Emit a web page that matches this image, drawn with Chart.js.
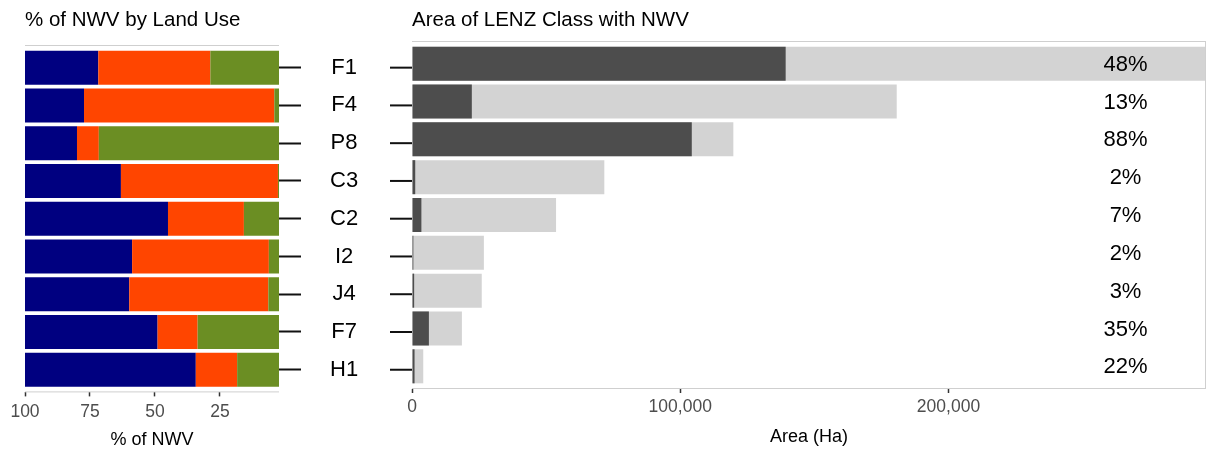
<!DOCTYPE html>
<html>
<head>
<meta charset="utf-8">
<script src="https://cdn.jsdelivr.net/npm/chart.js@4"></script>
<style>
  body { margin: 0; background: #fff; }
  #wrap { position: relative; width: 1208px; height: 453px; }
  #landUse { position: absolute; left: 0; top: 0; }
  #lenzArea { position: absolute; left: 390px; top: 0; }
</style>
</head>
<body>
<div id="wrap">
  <canvas id="landUse" width="412" height="453"></canvas>
  <canvas id="lenzArea" width="818" height="453"></canvas>
</div>
<script>
const classes = ['F1', 'F4', 'P8', 'C3', 'C2', 'I2', 'J4', 'F7', 'H1'];

// % of NWV by land use (left panel)
const useNavy   = [28.2, 22.7, 20.0, 36.9, 55.0, 41.2, 40.1, 51.0, 65.7];
const useOrange = [43.1, 73.2,  8.4, 60.4, 29.2, 52.6, 53.5, 15.4, 15.9];
const useGreen  = [28.7,  4.1, 71.6,  2.7, 15.8,  6.2,  6.4, 33.6, 18.4];
const pctTicks = [100, 75, 50, 25];

// area of LENZ class, hectares (right panel)
const totalArea = [298000, 180700, 119800, 71700, 53700, 26800, 26000, 18600, 4200];
const nwvArea   = [139300,  22300, 104300,  1200,  3500,   500,   800,  6300,  950];
const nwvPctLabel = [48, 13, 88, 2, 7, 2, 3, 35, 22];
const pctLabelAt = 266000;
const areaTicks = [0, 100000, 200000];

Chart.defaults.font.family = '"Liberation Sans", Arial, sans-serif';
Chart.defaults.color = '#000';

const rowIndex = classes.map((c, i) => i + 1);

function toPoints(values) {
    return values.map((v, i) => ({ x: v, y: rowIndex[i] }));
}

// light grey panel outline
const panelFrame = {
    id: 'panelFrame',
    afterDraw(chart, args, opts) {
        const a = chart.chartArea;
        const ctx = chart.ctx;
        ctx.save();
        ctx.strokeStyle = '#cfcfcf';
        ctx.lineWidth = 1;
        ctx.beginPath();
        ctx.moveTo(a.left, a.top + 0.5);
        ctx.lineTo(a.right, a.top + 0.5);
        ctx.moveTo(a.left, a.bottom - 0.5);
        ctx.lineTo(a.right, a.bottom - 0.5);
        if (opts.right) {
            ctx.moveTo(a.right - 0.5, a.top);
            ctx.lineTo(a.right - 0.5, a.bottom);
        }
        ctx.stroke();
        ctx.restore();
    }
};

// tick marks on the right of the class labels
const middleTicks = {
    id: 'middleTicks',
    afterDraw(chart) {
        const s = chart.scales.y;
        const ctx = chart.ctx;
        ctx.save();
        ctx.strokeStyle = '#111';
        ctx.lineWidth = 2;
        s.ticks.forEach((t, i) => {
            const y = s.getPixelForTick(i);
            ctx.beginPath();
            ctx.moveTo(s.right - 22, y);
            ctx.lineTo(s.right, y);
            ctx.stroke();
        });
        ctx.restore();
    }
};

// percent of class covered by NWV
const pctText = {
    id: 'pctText',
    afterDatasetsDraw(chart) {
        const ctx = chart.ctx;
        const xs = chart.scales.x;
        const ys = chart.scales.y;
        ctx.save();
        ctx.font = '22px "Liberation Sans", Arial, sans-serif';
        ctx.fillStyle = '#000';
        ctx.textAlign = 'center';
        ctx.textBaseline = 'middle';
        nwvPctLabel.forEach((p, i) => {
            ctx.fillText(p + '%', xs.getPixelForValue(pctLabelAt), ys.getPixelForValue(rowIndex[i]) + 1);
        });
        ctx.restore();
    }
};

new Chart(document.getElementById('landUse'), {
    type: 'bar',
    data: {
        datasets: [
            { data: toPoints(useGreen), backgroundColor: '#6B8E23', clip: 0 },
            { data: toPoints(useOrange), backgroundColor: '#FF4500', clip: 0 },
            { data: toPoints(useNavy), backgroundColor: '#000080', clip: 0 }
        ]
    },
    options: {
        indexAxis: 'y',
        responsive: false,
        animation: false,
        barPercentage: 0.9,
        categoryPercentage: 1,
        layout: { padding: { left: 25, right: 0, top: 0, bottom: 2 } },
        plugins: {
            legend: { display: false },
            tooltip: { enabled: false },
            title: {
                display: true,
                text: '% of NWV by Land Use',
                align: 'start',
                color: '#000',
                font: { size: 20.5, weight: 'normal' },
                padding: { top: 7.7, bottom: 12.7 }
            },
            panelFrame: { right: false }
        },
        scales: {
            x: {
                type: 'linear',
                reverse: true,
                min: 2.3,
                max: 100,
                stacked: true,
                afterBuildTicks: s => { s.ticks = pctTicks.map(v => ({ value: v })); },
                grid: { drawOnChartArea: false, tickLength: 4, tickColor: '#333', tickWidth: 1.5 },
                border: { display: false },
                ticks: { color: '#4d4d4d', font: { size: 17.5 }, padding: 5, maxRotation: 0 },
                title: {
                    display: true,
                    text: '% of NWV',
                    color: '#000',
                    font: { size: 18 },
                    padding: { top: 2, bottom: 0 }
                }
            },
            y: {
                type: 'linear',
                position: 'right',
                reverse: true,
                offset: false,
                min: 0.4,
                max: 9.6,
                stacked: true,
                afterBuildTicks: s => { s.ticks = rowIndex.map(v => ({ value: v })); },
                afterFit: s => { s.width = 133; },
                grid: { offset: false, drawOnChartArea: false, tickLength: 22, tickColor: '#111', tickWidth: 2 },
                border: { display: false },
                ticks: {
                    crossAlign: 'center',
                    padding: 29,
                    color: '#000',
                    font: { size: 22 },
                    autoSkip: false,
                    callback: v => classes[v - 1]
                }
            }
        }
    },
    plugins: [panelFrame, middleTicks]
});

new Chart(document.getElementById('lenzArea'), {
    type: 'bar',
    data: {
        datasets: [
            { data: toPoints(nwvArea), backgroundColor: '#4d4d4d', order: 1, clip: 0 },
            { data: toPoints(totalArea), backgroundColor: '#d3d3d3', order: 2, clip: 0 }
        ]
    },
    options: {
        indexAxis: 'y',
        responsive: false,
        animation: false,
        barPercentage: 0.9,
        categoryPercentage: 1,
        layout: { padding: { left: 22, right: 2, top: 0, bottom: 4.7 } },
        plugins: {
            legend: { display: false },
            tooltip: { enabled: false },
            title: {
                display: true,
                text: 'Area of LENZ Class with NWV',
                align: 'start',
                color: '#000',
                font: { size: 20.5, weight: 'normal' },
                padding: { top: 8.2, bottom: 8.2 }
            },
            panelFrame: { right: true }
        },
        scales: {
            x: {
                type: 'linear',
                min: 0,
                max: 296000,
                afterBuildTicks: s => { s.ticks = areaTicks.map(v => ({ value: v })); },
                grid: { drawOnChartArea: false, tickLength: 4, tickColor: '#333', tickWidth: 1.5 },
                border: { display: false },
                ticks: {
                    color: '#4d4d4d',
                    font: { size: 17.5 },
                    padding: 4,
                    maxRotation: 0,
                    callback: v => v.toLocaleString('en-US')
                },
                title: {
                    display: true,
                    text: 'Area (Ha)',
                    color: '#000',
                    font: { size: 18 },
                    padding: { top: 4.7, bottom: 0 }
                }
            },
            y: {
                type: 'linear',
                reverse: true,
                offset: false,
                grid: { offset: false },
                min: 0.4,
                max: 9.6,
                stacked: true,
                afterBuildTicks: s => { s.ticks = rowIndex.map(v => ({ value: v })); },
                display: false
            }
        }
    },
    plugins: [panelFrame, pctText]
});
</script>
</body>
</html>
